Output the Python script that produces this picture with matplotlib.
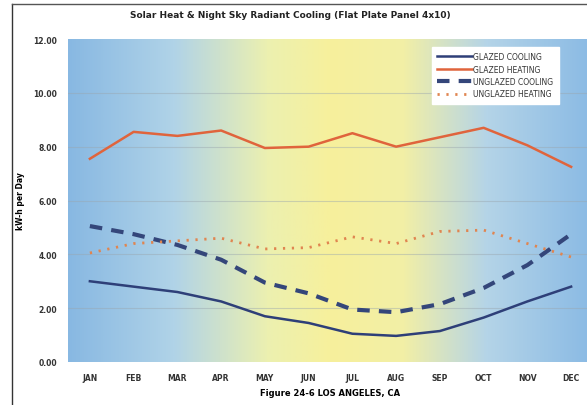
import numpy as np
import matplotlib
matplotlib.use("Agg")
import matplotlib.pyplot as plt
from matplotlib.colors import LinearSegmentedColormap
from matplotlib.lines import Line2D

months = ["JAN", "FEB", "MAR", "APR", "MAY", "JUN", "JUL", "AUG", "SEP", "OCT", "NOV", "DEC"]
glazed_cooling = [3.0, 2.8, 2.6, 2.25, 1.7, 1.45, 1.05, 0.97, 1.15, 1.65, 2.25, 2.8]
glazed_heating = [7.55, 8.55, 8.4, 8.6, 7.95, 8.0, 8.5, 8.0, 8.35, 8.7, 8.05, 7.25]
unglazed_cooling = [5.05, 4.75, 4.35, 3.8, 2.95, 2.55, 1.95, 1.85, 2.15, 2.75, 3.6, 4.75]
unglazed_heating = [4.05, 4.4, 4.5, 4.6, 4.2, 4.25, 4.65, 4.4, 4.85, 4.9, 4.4, 3.9]
yticks = [0, 2, 4, 6, 8, 10, 12]

fig = plt.figure(figsize=(5.87, 4.06), dpi=100)
ax = fig.add_axes([68/587, 43/406, 525/587, 323/406])

x = np.arange(len(months))
ax.set_xlim(-0.5, 11.5)
ax.set_ylim(0, 12)

# background gradient
cmap = LinearSegmentedColormap.from_list("bg", [
    (0.0, "#88b8e2"), (0.2, "#b0d3e8"), (0.38, "#ecf0b0"),
    (0.5, "#f7f09c"), (0.64, "#f2efa6"), (0.8, "#b4d4e8"), (1.0, "#8abae4")])
grad = np.linspace(0, 1, 512).reshape(1, -1)
ax.imshow(grad, extent=[-0.5, 11.5, 0, 12], aspect="auto", cmap=cmap, zorder=0)

for yv in yticks[1:-1]:
    ax.axhline(yv, color="#9aa6ae", lw=0.8, alpha=0.45, zorder=1)

ax.plot(x, glazed_cooling, color="#2e3f78", lw=1.8, zorder=3, label="GLAZED COOLING")
ax.plot(x, glazed_heating, color="#e0643c", lw=1.8, zorder=3, label="GLAZED HEATING")
ax.plot(x, unglazed_cooling, color="#34467a", lw=3.0, ls=(0, (3, 2.2)), zorder=3, label="UNGLAZED COOLING")
ax.plot(x, unglazed_heating, color="#e08550", lw=2.0, ls=(0, (0.8, 2.4)), zorder=3, label="UNGLAZED HEATING")

ax.set_xticks(x)
ax.set_xticklabels(months, fontsize=5.5, fontweight="bold", color="#333333")
ax.set_yticks(yticks)
ax.set_yticklabels(["%.2f" % v for v in yticks], fontsize=5.5, fontweight="bold", color="#333333")
ax.tick_params(length=0, pad=8)
for s in ax.spines.values():
    s.set_visible(False)

ax.set_ylabel("kW-h per Day", fontsize=5.5, fontweight="bold")
ax.yaxis.set_label_coords((25 - 68)/525, 0.5)
ax.set_xlabel("Figure 24-6 LOS ANGELES, CA", fontsize=6, fontweight="bold", labelpad=4)

fig.text(290/587, 1 - 15/406, "Solar Heat & Night Sky Radiant Cooling (Flat Plate Panel 4x10)",
         ha="center", va="center", fontsize=6.5, fontweight="bold", color="#222222")

leg = ax.legend(loc="upper left", bbox_to_anchor=((428-68)/525, (363-44)/323), fontsize=5.5,
                frameon=True, fancybox=False, framealpha=1, edgecolor="white",
                handlelength=4.5, borderpad=0.7, labelspacing=0.45, handletextpad=0.2)
for t in leg.get_texts():
    t.set_color("#333333")

# frame lines of the picture
fig.add_artist(Line2D([12/587, 12/587], [0, 1 - 5/406], color="#333333", lw=1.0))
fig.add_artist(Line2D([12/587, 1], [1 - 5/406, 1 - 5/406], color="#555555", lw=1.0))

fig.savefig("out.png", dpi=100)
